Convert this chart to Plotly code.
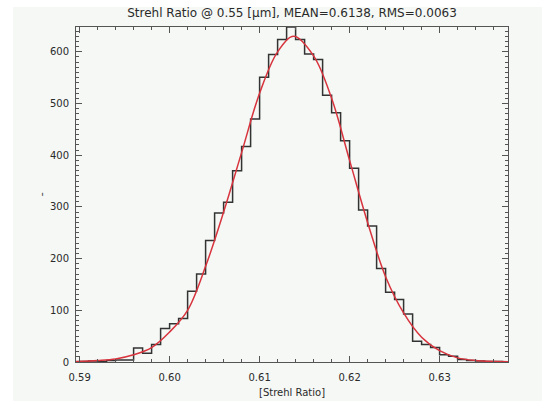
import plotly.graph_objects as go

# Histogram bin centers (bin width 0.001) and counts
bin_centers = [0.5895 + 0.001 * i for i in range(49)]
counts = [0, 1, 2, 1, 3, 4, 4, 27, 17, 34, 65, 74, 84, 137, 170, 235, 288, 309,
          370, 417, 470, 551, 595, 624, 648, 624, 596, 585, 516, 482, 428, 375,
          294, 263, 181, 135, 121, 93, 40, 34, 28, 14, 11, 5, 3, 2, 1, 1, 0]

# Gaussian fit curve
fit_x = [0.5896, 0.592, 0.594, 0.596, 0.598, 0.600, 0.602, 0.604, 0.606, 0.608,
         0.610, 0.612, 0.6138, 0.616, 0.618, 0.620, 0.622, 0.624, 0.626,
         0.628, 0.630, 0.632, 0.634, 0.6376]
fit_y = [1, 3, 6, 14, 28, 58, 100, 185, 290, 405, 520, 600, 630, 592, 510,
         390, 270, 165, 95, 48, 22, 8, 3, 0.5]

x_ticks = [0.59, 0.60, 0.61, 0.62, 0.63]
x_tick_labels = ["0.59", "0.60", "0.61", "0.62", "0.63"]
y_ticks = [0, 100, 200, 300, 400, 500, 600]

title_text = "Strehl Ratio @ 0.55 [μm], MEAN=0.6138, RMS=0.0063"
x_title = "[Strehl Ratio]"

fig = go.Figure()
fig.add_trace(go.Scatter(x=bin_centers, y=counts, mode="lines",
                         line=dict(shape="hvh", color="#333333", width=1.5),
                         hoverinfo="skip"))
fig.add_trace(go.Scatter(x=fit_x, y=fit_y, mode="lines",
                         line=dict(shape="spline", color="#d8343e", width=1.5),
                         hoverinfo="skip"))

font = dict(family="DejaVu Sans", size=10, color="#2a2a2a")
W, H = 542, 401
L, R, T, B = 76, 34, 27, 39
PW, PH = W - L - R, H - T - B

fig.update_layout(
    width=W, height=H,
    margin=dict(l=L, r=R, t=T, b=B, pad=0),
    paper_bgcolor="#f5f8f5", plot_bgcolor="#f5f8f5",
    showlegend=False,
    font=font,
    title=dict(text=title_text, x=(L + PW / 2) / W, xanchor="center",
               y=1 - 13 / H, yanchor="middle",
               font=dict(family="DejaVu Sans", size=12, color="#2a2a2a")),
    xaxis=dict(range=[0.5896, 0.6376], tickvals=x_ticks, ticktext=x_tick_labels,
               ticks="inside", ticklen=6, tickcolor="#555555", tickwidth=1,
               showline=True, linecolor="#555555", linewidth=1, mirror="allticks",
               showgrid=False, zeroline=False, ticklabelstandoff=6,
               minor=dict(dtick=0.002, ticks="inside", ticklen=3, tickcolor="#555555", showgrid=False),
               tickfont=font),
    yaxis=dict(range=[0, 648], tickvals=y_ticks,
               ticks="inside", ticklen=6, tickcolor="#555555", tickwidth=1,
               showline=True, linecolor="#555555", linewidth=1, mirror="allticks",
               showgrid=False, zeroline=False,
               minor=dict(dtick=10, ticks="inside", ticklen=3, tickcolor="#555555", showgrid=False),
               tickfont=font, ticklabelstandoff=4),
    shapes=[
        dict(type="rect", xref="paper", yref="paper", x0=-L / PW, x1=(13 - L) / PW,
             y0=-B / PH, y1=(H - B) / PH, fillcolor="white", line=dict(width=0), layer="below"),
        dict(type="rect", xref="paper", yref="paper", x0=-L / PW, x1=(W - L) / PW,
             y0=(H - B - 7) / PH, y1=(H - B) / PH, fillcolor="white", line=dict(width=0), layer="below"),
    ],
    annotations=[
        dict(text=x_title, xref="paper", yref="paper", x=0.5, y=-30 / PH,
             xanchor="center", yanchor="middle", showarrow=False,
             font=dict(family="DejaVu Sans", size=10, color="#2a2a2a")),
        dict(text="-", xref="paper", yref="paper", x=-35 / PW, y=0.5,
             xanchor="center", yanchor="middle", showarrow=False, textangle=-90,
             font=dict(family="DejaVu Sans", size=12, color="#555555")),
    ],
)

fig.write_html("out.html")
